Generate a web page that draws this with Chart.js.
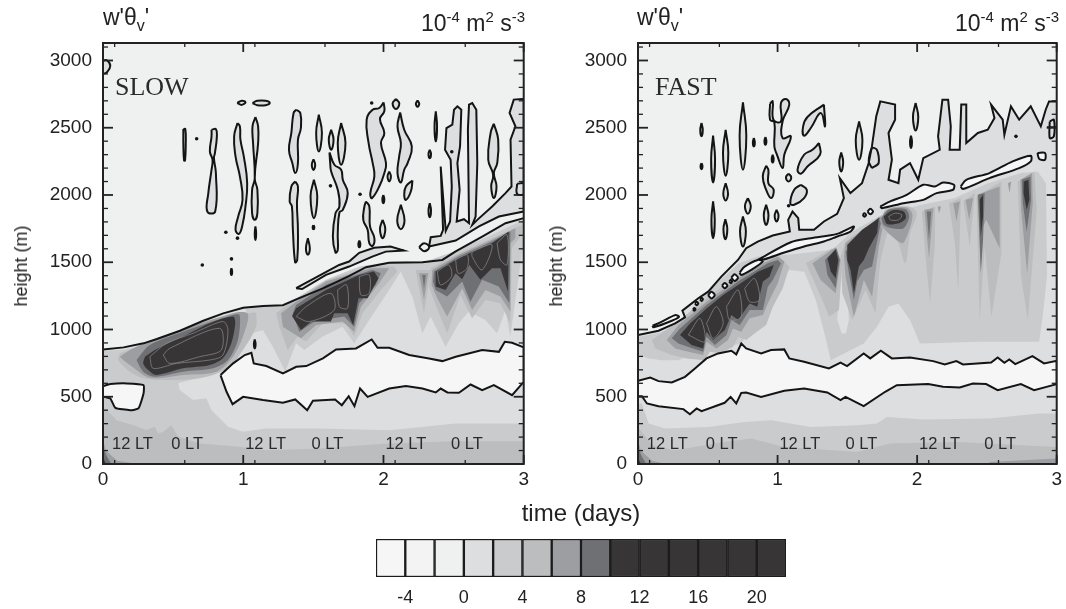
<!DOCTYPE html>
<html lang="en">
<head>
<meta charset="UTF-8">
<title>w'θv' SLOW and FAST</title>
<script src="https://cdn.jsdelivr.net/npm/chart.js"></script>
<style>
    body { margin: 0; background: #fff; width: 1066px; height: 609px; overflow: hidden; position: relative; font-family: "Liberation Sans", Arial, sans-serif; color: #222; }
    canvas { position: absolute; }
    .txt { position: absolute; white-space: nowrap; font-size: 23px; line-height: 20px; }
    .txt sup { font-size: 15px; line-height: 0; }
    .txt sub { font-size: 16px; line-height: 0; }
    .ylab { font-size: 18px; transform: translate(-50%, -50%) rotate(-90deg); }
</style>
</head>
<body>
<canvas id="slowChart" width="533" height="500" style="left:0;top:0"></canvas>
<canvas id="fastChart" width="533" height="500" style="left:533px;top:0"></canvas>
<canvas id="scaleChart" width="440" height="79" style="left:360px;top:530px"></canvas>
<div class="txt" style="left:103px;top:7px">w'θ<sub>v</sub>'</div>
<div class="txt" style="left:637px;top:7px">w'θ<sub>v</sub>'</div>
<div class="txt" style="right:541px;top:13px">10<sup>-4</sup> m<sup>2</sup> s<sup>-3</sup></div>
<div class="txt" style="right:7px;top:13px">10<sup>-4</sup> m<sup>2</sup> s<sup>-3</sup></div>
<div class="txt ylab" style="left:21px;top:266px">height (m)</div>
<div class="txt ylab" style="left:556px;top:266px">height (m)</div>
<div class="txt" style="left:581px;top:501px;font-size:24px;line-height:24px;transform:translateX(-50%)">time (days)</div>
<script>
// axis ticks
const dayTicks = [0, 1, 2, 3];
const localTimeTicks = [0.083, 0.583, 1.083, 1.583, 2.083, 2.583];
const heightLabelTicks = [0, 500, 1000, 1500, 2000, 2500, 3000];
const heightMajorTicks = [500, 1000, 1500, 2000, 2500, 3000];
const heightMinorTicks = [100, 200, 300, 400, 600, 700, 800, 900, 1100, 1200, 1300, 1400, 1600, 1700, 1800, 1900, 2100, 2200, 2300, 2400, 2600, 2700, 2800, 2900, 3100];
const ltLabels = ['12 LT', '0 LT', '12 LT', '0 LT', '12 LT', '0 LT'];
const ltTimes = [0.21, 0.6, 1.16, 1.6, 2.16, 2.595];
const ltHeight = 147;

// colour scale
const scaleEdges = [-6, -4, -2, 0, 2, 4, 6, 8, 10, 12, 14, 16, 18, 20, 22];
const scaleTicks = [-4, 0, 4, 8, 12, 16, 20];
const scaleShades = ['#f5f6f5', '#f2f3f2', '#eff1f0', '#dcdee0', '#c9cbcc', '#bbbdbf', '#9c9ea1', '#6e7073', '#383536', '#383536', '#383536', '#383536', '#383536', '#383536'];

// SLOW: zero contours
const slowInversion = [[0,852],[.147,867],[.289,897],[.384,929],[.549,991],[.715,1065],[.857,1120],[1,1162],[1.141,1175],[1.283,1180],[1.378,1224],[1.568,1306],[1.757,1398],[1.875,1463],[2.04,1497],[2.278,1500],[2.42,1517],[2.515,1580],[2.704,1691],[2.87,1790],[3,1828]];
const slowWhiteMain = [[.838,661],[.928,748],[1.011,810],[1.058,827],[1.075,748],[1.165,728],[1.283,673],[1.378,723],[1.449,728],[1.568,785],[1.662,852],[1.804,859],[1.916,926],[1.958,864],[2.041,864],[2.183,810],[2.325,785],[2.42,765],[2.515,797],[2.704,847],[2.823,834],[2.865,909],[2.917,901],[3,867],[3,611],[2.917,512],[2.787,586],[2.704,549],[2.621,591],[2.538,529],[2.456,532],[2.408,561],[2.373,532],[2.278,561],[2.16,579],[2.041,561],[1.887,499],[1.833,561],[1.793,430],[1.752,504],[1.703,437],[1.655,480],[1.497,470],[1.456,400],[1.371,480],[1.283,455],[1.141,475],[.999,499],[.924,445],[.881,537]];
const slowWhiteSmall = [[0,579],[.052,594],[.17,599],[.289,586],[.289,524],[.253,413],[.194,400],[.088,418],[.052,487],[0,504]];
const slowUpperLens = [[1.377,1307],[1.684,1480],[1.755,1505],[1.827,1570],[1.933,1607],[2.05,1617],[2.146,1587],[2.016,1579],[1.92,1542],[1.755,1468],[1.59,1406],[1.42,1301]];
const slowUpperBand = [[2.325,1617],[2.337,1686],[2.408,1696],[2.425,1741],[2.408,2212],[2.444,1733],[2.475,1803],[2.487,2063],[2.479,2262],[2.439,2336],[2.449,2498],[2.491,2523],[2.503,2634],[2.527,2659],[2.555,2634],[2.546,2361],[2.527,2237],[2.543,2039],[2.522,1803],[2.574,1820],[2.61,1790],[2.602,2485],[2.61,2672],[2.633,2684],[2.662,2634],[2.669,2237],[2.657,1840],[2.633,1778],[2.669,1815],[2.775,1915],[2.87,2014],[2.913,2063],[2.906,2411],[2.941,2510],[2.899,2610],[2.929,2709],[2.989,2714],[3,2709],[3,1877],[2.823,1840],[2.681,1766],[2.515,1661]];
const slowStreaks = [
    [[.573,2490],[.587,2490],[.59,2374],[.585,2257],[.578,2257],[.573,2374]],
    [[.774,2485],[.805,2490],[.812,2436],[.798,2312],[.791,2274],[.805,2163],[.8,1877],[.744,1877],[.751,2014],[.774,2188],[.781,2262],[.762,2324],[.774,2436]],
    [[.959,2535],[.935,2436],[.945,2287],[.976,2138],[.995,1964],[.964,1840],[.945,1741],[.969,1711],[.992,1766],[1.016,1915],[1.028,2088],[1.004,2287],[.98,2411],[.976,2510]],
    [[1.087,2580],[1.106,2510],[1.106,2386],[1.082,2125],[1.101,2039],[1.101,1865],[1.082,1815],[1.063,1865],[1.063,2039],[1.082,2125],[1.07,2386],[1.066,2510]],
    [[.957,2684],[.99,2700],[1.016,2690],[.99,2670]],
    [[1.066,2684],[1.1,2700],[1.16,2700],[1.189,2684],[1.16,2668],[1.1,2668]],
    [[1.087,1766],[1.092,1716],[1.087,1666],[1.082,1716]],
    [[.916,1455],[.921,1430],[.916,1405],[.911,1430]],
    [[1.082,926],[1.088,892],[1.082,859],[1.076,892]],
    [[1.378,2634],[1.407,2610],[1.411,2498],[1.39,2411],[1.39,2237],[1.371,2163],[1.35,2237],[1.326,2336],[1.343,2461],[1.359,2610]],
    [[1.371,2101],[1.39,2063],[1.383,1939],[1.39,1741],[1.385,1517],[1.37,1500],[1.354,1741],[1.347,1915],[1.331,1952],[1.343,2063]],
    [[1.539,2597],[1.561,2461],[1.539,2324],[1.52,2461]],
    [[1.501,2265],[1.513,2225],[1.501,2185],[1.489,2225]],
    [[1.504,2113],[1.528,1989],[1.504,1828],[1.48,1989]],
    [[1.501,1776],[1.507,1761],[1.501,1746],[1.495,1761]],
    [[1.461,1679],[1.475,1600],[1.461,1555],[1.447,1600]],
    [[1.627,2485],[1.644,2411],[1.627,2336],[1.61,2411]],
    [[1.698,2535],[1.729,2386],[1.698,2225],[1.674,2386]],
    [[1.615,2317],[1.65,2225],[1.698,2188],[1.71,2113],[1.745,2014],[1.71,1890],[1.686,1870],[1.674,1716],[1.674,1592],[1.658,1572],[1.639,1691],[1.658,1865],[1.686,1915],[1.674,2039],[1.627,2175],[1.62,2237]],
    [[2.001,2689],[2.006,2622],[1.975,2565],[2.006,2461],[1.982,2386],[2.018,2237],[2.006,2163],[1.97,2063],[1.918,1977],[1.906,2014],[1.935,2138],[1.923,2237],[1.894,2386],[1.88,2560],[1.923,2634],[1.97,2647]],
    [[2.089,2714],[2.113,2680],[2.089,2639],[2.065,2680]],
    [[2.243,2702],[2.255,2679],[2.243,2656],[2.231,2679]],
    [[2.119,2614],[2.148,2485],[2.202,2361],[2.172,2237],[2.148,2188],[2.124,2093],[2.1,2163],[2.112,2287],[2.124,2386],[2.1,2510]],
    [[2.041,2175],[2.053,2138],[2.041,2101],[2.029,2138]],
    [[2.207,2108],[2.195,2026],[2.16,1964],[2.148,2001],[2.16,2063]],
    [[2.124,1927],[2.15,1810],[2.124,1746],[2.098,1810]],
    [[1.999,2000],[2.006,1970],[1.999,1939],[1.992,1970]],
    [[1.875,1952],[1.899,1915],[1.904,1766],[1.935,1679],[1.923,1622],[1.899,1642],[1.887,1741],[1.856,1815],[1.864,1915]],
    [[1.994,1815],[2.013,1747],[1.994,1679],[1.975,1747]],
    [[1.828,1661],[1.835,1636],[1.828,1612],[1.821,1636]],
    [[2.33,2336],[2.339,2305],[2.33,2274],[2.321,2305]],
    [[2.373,2622],[2.382,2510],[2.373,2399],[2.364,2510]],
    [[2.33,1939],[2.339,1887],[2.33,1835],[2.321,1887]],
    [[2.787,2530],[2.818,2411],[2.811,2237],[2.787,2163],[2.806,2063],[2.787,1977],[2.768,2063],[2.782,2150],[2.747,2262],[2.764,2461]],
    [[2.953,2083],[3,2083],[3,2009],[2.953,2009]],
    [[0,3000],[.03,3000],[.052,2960],[.03,2915],[0,2907]]
];
const slowRingsClear = [[[2.254,1612],[2.29,1642],[2.326,1612],[2.29,1582]]];
const slowSpecks = [[.668,2418],[.876,1723],[.959,1679],[.708,1480],[.916,1525],[1.622,2068],[1.916,2684],[1.833,2006],[2.487,2322]];

// SLOW: shaded bands
const slowShade4Low = [[0,840],[.14,850],[.29,880],[.4,910],[.6,960],[.76,1000],[.903,748],[.832,686],[.536,600],[.547,550],[.642,475],[.737,488],[.773,401],[.808,364],[.891,277],[.998,240],[1.163,264],[1.543,264],[2.041,251],[2.515,301],[3,301],[3,0],[0,0]];
const slowShade4Up = [[1.02,1150],[1.116,1170],[1.282,1170],[1.377,1232],[1.59,1369],[1.827,1468],[2.064,1505],[2.3,1505],[2.537,1592],[2.774,1704],[3,1815],[3,1667],[2.905,947],[2.869,1145],[2.81,972],[2.727,1071],[2.608,1133],[2.537,1046],[2.443,872],[2.336,1096],[2.277,972],[2.206,1245],[2.123,1431],[2.04,1294],[1.898,1071],[1.791,897],[1.708,1021],[1.566,947],[1.436,848],[1.377,897],[1.3,690],[1.211,872],[1.14,997],[1.02,960]];
const slowShade6Low = [[0,420],[.026,401],[.097,326],[.216,289],[.31,252],[.37,277],[.393,227],[.429,240],[.488,289],[.536,202],[.69,153],[.974,128],[1.163,103],[1.543,115],[2,150],[2.5,170],[3,170],[3,0],[0,0]];
const slowCorner8 = [[0,180],[.02,100],[.1,25],[.25,0],[0,0]];
const slowCorner10 = [[0,120],[.03,50],[.06,0],[0,0]];
const slowCornerDark = [[0,50],[.02,0],[0,0]];
const slowAShade6 = [[.121,823],[.334,897],[.6,1000],[.85,1095],[1.092,1126],[1.092,1116],[1.092,1021],[.998,848],[.891,711],[.69,637],[.405,624],[.287,637],[.192,686],[.109,773]];
const slowAShade8 = [[.121,798],[.216,860],[.453,959],[.927,1121],[1.033,1116],[.998,947],[.927,798],[.808,686],[.571,662],[.393,637],[.31,649],[.239,699],[.145,773]];
const slowAShade10 = [[.239,773],[.334,885],[.571,984],[.927,1108],[.974,1108],[.962,922],[.891,773],[.784,711],[.571,686],[.37,649],[.287,686]];
const slowADark = [[.299,798],[.393,860],[.571,947],[.761,1046],[.927,1096],[.943,1046],[.915,897],[.855,786],[.761,736],[.571,711],[.382,662],[.322,699],[.287,748]];
const slowBShade6 = [[1.234,1121],[1.258,1021],[1.317,848],[1.388,947],[1.448,910],[1.566,1046],[1.732,1046],[1.791,947],[1.85,1121],[1.981,1294],[2.099,1431],[2.075,1468],[1.898,1468],[1.59,1364],[1.377,1225],[1.282,1158]];
const slowBShade8 = [[1.91,1456],[1.59,1356],[1.377,1207],[1.27,1121],[1.282,1021],[1.412,934],[1.519,1034],[1.708,1059],[1.791,984],[1.839,1170],[1.969,1344],[2.04,1456]];
const slowBShade10 = [[1.353,1121],[1.4,984],[1.507,1059],[1.72,1096],[1.791,1021],[1.827,1195],[1.945,1332],[1.981,1418],[1.921,1443],[1.59,1332],[1.377,1183]];
const slowBDark = [[1.348,1101],[1.412,996],[1.483,1059],[1.625,1059],[1.649,1121],[1.744,1121],[1.784,1034],[1.822,1232],[1.886,1232],[1.964,1381],[1.933,1431],[1.827,1406],[1.59,1294],[1.377,1158]];
const slowMidShade6 = [[2.229,1443],[2.336,1443],[2.289,1121]];
const slowMidShade8 = [[2.253,1418],[2.319,1418],[2.289,1220]];
const slowMidShade10 = [[2.277,1406],[2.301,1406],[2.289,1307]];
const slowCShade6 = [[2.336,1456],[2.537,1567],[2.774,1679],[2.988,1778],[2.988,1704],[2.916,1605],[2.905,1046],[2.834,1195],[2.727,1220],[2.632,1083],[2.549,1257],[2.454,972],[2.372,1183],[2.324,1319]];
const slowCShade8 = [[2.348,1443],[2.537,1555],[2.774,1667],[2.94,1753],[2.94,1679],[2.905,1642],[2.905,1133],[2.834,1245],[2.727,1294],[2.632,1145],[2.561,1307],[2.454,1096],[2.383,1232],[2.343,1332]];
const slowCShade10 = [[2.36,1431],[2.537,1543],[2.774,1654],[2.905,1729],[2.898,1195],[2.822,1319],[2.703,1369],[2.62,1207],[2.561,1356],[2.454,1245],[2.372,1294],[2.353,1356]];
const slowCDark = [[2.372,1431],[2.537,1530],[2.774,1642],[2.893,1729],[2.888,1282],[2.834,1456],[2.774,1456],[2.691,1369],[2.613,1480],[2.561,1374],[2.514,1418],[2.443,1294],[2.372,1319]];
const slowInnerLines = [
    [[.334,798],[.453,897],[.642,972],[.855,1059],[.891,997],[.855,810],[.761,773],[.524,748],[.358,711]],
    [[.429,810],[.476,860],[.832,1009],[.844,848],[.69,798],[.476,748]],
    [[1.377,1096],[1.448,1170],[1.625,1269],[1.649,1145],[1.471,1059]],
    [[1.673,1294],[1.737,1332],[1.744,1158],[1.685,1170]],
    [[1.827,1394],[1.898,1406],[1.898,1269],[1.839,1257]],
    [[2.383,1431],[2.466,1480],[2.485,1394],[2.407,1332]],
    [[2.514,1518],[2.597,1555],[2.597,1456],[2.533,1418]],
    [[2.632,1580],[2.774,1629],[2.703,1443],[2.632,1543]],
    [[2.81,1642],[2.881,1704],[2.881,1480],[2.834,1518]]
];

// FAST: zero contours
const fastInversion = [[0,959],[.147,991],[.266,1045],[.337,1090],[.318,1140],[.432,1232],[.503,1281],[.597,1393],[.716,1517],[.775,1604],[.858,1654],[.965,1699],[1.088,1728],[1.076,1815],[1.107,1877],[1.148,1828],[1.155,1741],[1.261,1741],[1.332,1803],[1.427,1860],[1.475,1977],[1.446,2125],[1.522,2014],[1.605,2088],[1.653,2237],[1.676,2361],[1.707,2585],[1.736,2696],[1.842,2672],[1.842,2560],[1.795,2461],[1.819,2262],[1.795,2113],[1.866,2088],[1.878,2188],[1.949,2237],[2.008,2113],[2.044,2274],[2.162,2336],[2.15,2436],[2.181,2709],[2.222,2709],[2.241,2510],[2.233,2336],[2.305,2336],[2.316,2672],[2.352,2672],[2.352,2386],[2.435,2461],[2.506,2485],[2.554,2572],[2.53,2672],[2.613,2560],[2.625,2448],[2.672,2659],[2.731,2560],[2.814,2659],[2.886,2510],[2.921,2634],[2.945,2696],[3,2696]];
const fastWhiteMain = [[0,619],[.088,643],[.147,616],[.242,606],[.337,648],[.408,710],[.491,785],[.574,822],[.669,842],[.704,815],[.74,896],[.775,859],[.882,822],[.953,847],[1.048,852],[1.084,785],[1.19,760],[1.368,710],[1.451,753],[1.498,728],[1.617,822],[1.664,785],[1.74,842],[1.819,785],[1.949,792],[2.115,765],[2.198,740],[2.281,765],[2.328,740],[2.53,755],[2.577,792],[2.625,753],[2.66,777],[2.703,743],[2.826,802],[2.909,748],[3,767],[3,594],[2.838,549],[2.743,594],[2.577,549],[2.494,594],[2.399,599],[2.305,569],[2.186,574],[2.079,594],[1.854,586],[1.771,537],[1.617,430],[1.487,499],[1.451,475],[1.356,532],[1.19,561],[1.048,544],[.882,499],[.775,532],[.74,529],[.704,450],[.664,499],[.621,455],[.455,393],[.42,413],[.372,370],[.325,408],[.147,430],[.064,450],[.028,504],[0,504]];
const fastLenses = [
    [[1.736,1915],[1.807,1952],[1.925,2001],[2.044,2076],[2.127,2063],[2.186,2093],[2.264,2076],[2.257,2039],[2.139,2014],[2.044,1964],[1.902,1939],[1.747,1902]],
    [[2.312,2063],[2.352,2113],[2.518,2163],[2.684,2250],[2.814,2292],[2.814,2250],[2.731,2200],[2.518,2125],[2.328,2044]],
    [[.858,1517],[1.095,1649],[1.238,1679],[1.427,1711],[1.546,1766],[1.522,1728],[1.427,1691],[1.332,1654],[1.19,1617],[1.048,1572],[.906,1522]],
    [[.728,1423],[.764,1467],[.858,1517],[.894,1505],[.811,1443],[.74,1405]],
    [[.104,1028],[.171,1058],[.266,1107],[.294,1095],[.242,1065],[.111,1016]],
    [[.602,1326],[.621,1345],[.64,1326],[.621,1307]],
    [[.654,1356],[.664,1368],[.674,1356],[.664,1344]],
    [[.668,1385],[.692,1410],[.716,1385],[.692,1360]],
    [[.502,1256],[.526,1281],[.55,1256],[.526,1231]],
    [[.445,1224],[.455,1236],[.465,1224],[.455,1212]],
    [[.408,1194],[.42,1207],[.432,1194],[.42,1181]],
    [[.394,1150],[.403,1160],[.412,1150],[.403,1140]],
    [[1.61,1852],[1.622,1865],[1.634,1852],[1.622,1839]],
    [[1.644,1877],[1.664,1897],[1.684,1877],[1.664,1857]],
    [[2.862,2312],[2.916,2312],[2.916,2262],[2.875,2267]]
];
const fastBodyRings = [
    [[1.676,2200],[1.724,2237],[1.712,2336],[1.676,2349],[1.653,2250]],
    [[2.95,2547],[2.98,2560],[2.98,2436],[2.95,2423]]
];
const fastStreaks = [
    [[.455,2535],[.464,2485],[.455,2436],[.446,2485]],
    [[.455,2237],[.462,2215],[.455,2192],[.448,2215]],
    [[.538,2441],[.552,2267],[.538,2093],[.524,2267]],
    [[.628,2485],[.647,2314],[.628,2143],[.609,2314]],
    [[.628,2088],[.645,2010],[.628,1959],[.611,2010]],
    [[.538,1952],[.55,1815],[.538,1679],[.526,1815]],
    [[.626,1820],[.64,1745],[.626,1671],[.612,1745]],
    [[.752,2689],[.776,2440],[.752,2188],[.728,2440]],
    [[.83,2423],[.837,2392],[.83,2361],[.823,2392]],
    [[.913,2431],[.92,2402],[.913,2374],[.906,2402]],
    [[.965,2299],[.972,2270],[.965,2242],[.958,2270]],
    [[.946,2679],[.965,2696],[.97,2560],[1.024,2547],[1.024,2684],[1.06,2714],[1.084,2672],[1.036,2547],[1.036,2423],[1.095,2436],[1.048,2299],[1.036,2200],[.996,2299],[.977,2361],[.977,2540],[.946,2560]],
    [[.918,2217],[.934,2188],[.934,2088],[.972,2039],[.953,1977],[.918,2039],[.894,2138]],
    [[1.079,2160],[1.098,2130],[1.079,2100],[1.06,2130]],
    [[1.332,2672],[1.34,2510],[1.309,2610],[1.238,2498],[1.19,2441],[1.183,2510],[1.214,2580]],
    [[1.297,2386],[1.304,2299],[1.214,2212],[1.167,2158],[1.143,2188],[1.19,2299],[1.25,2336]],
    [[1.167,2076],[1.209,2039],[1.19,1977],[1.119,1927],[1.091,1939],[1.119,2039]],
    [[.787,1977],[.808,1918],[.787,1860],[.766,1918]],
    [[.918,1927],[.935,1850],[.918,1778],[.901,1850]],
    [[.993,1890],[1.007,1845],[.993,1803],[.979,1845]],
    [[.752,1840],[.773,1730],[.752,1617],[.731,1730]],
    [[1.456,2317],[1.47,2245],[1.456,2175],[1.442,2245]],
    [[1.584,2547],[1.608,2405],[1.584,2262],[1.56,2405]],
    [[1.989,2684],[2.008,2580],[1.989,2480],[1.97,2580]],
    [[1.956,2441],[1.963,2395],[1.956,2349],[1.949,2395]]
];
const fastSpecks = [[1.079,1920],[2.708,2436]];
const fastGridLine = [[2.93,2503],[3,2503]];

// FAST: shaded bands
const fastShade4Low = [[0,450],[.028,450],[.076,301],[.194,264],[.503,276],[.764,313],[.953,326],[1.238,276],[1.57,288],[1.712,301],[1.783,350],[2.044,331],[2.518,338],[2.874,375],[3,375],[3,0],[0,0]];
const fastShade6Low = [[0,276],[.1,139],[.265,102],[.621,164],[.811,189],[1.048,127],[1.57,90],[1.807,152],[2.281,164],[2.755,139],[3,127],[3,0],[0,0]];
const fastShade8Low = [[2.518,15],[3,40],[3,0],[2.518,0]];
const fastCorner8 = [[0,180],[.02,100],[.1,25],[.2,0],[0,0]];
const fastCorner10 = [[0,120],[.03,50],[.06,0],[0,0]];
const fastCornerDark = [[0,50],[.02,0],[0,0]];
const fastShade4Up = [[0,945],[.15,975],[.27,1020],[.33,1070],[.43,1210],[.6,1375],[.72,1490],[.85,1540],[1.084,1555],[1.392,1592],[1.535,1728],[1.725,1840],[2.033,1927],[2.27,1977],[2.508,2088],[2.745,2163],[2.864,2175],[2.923,2088],[2.93,1400],[2.926,1356],[2.902,1120],[2.874,909],[2.447,909],[2.02,896],[1.949,1070],[1.866,1194],[1.795,1170],[1.712,1021],[1.617,896],[1.381,772],[1.345,934],[1.274,1219],[1.191,1430],[1.084,1443],[1.025,1368],[.918,1194],[.859,1045],[.788,971],[.74,896],[.645,872],[.551,859],[.408,822],[.29,772],[.171,772],[.076,785],[0,810]];
const fastWedge = [[1.452,1517],[1.487,1517],[1.511,1071],[1.49,970],[1.46,970],[1.428,1071]];
const fastAShade6 = [[.1,921],[.266,1045],[.491,1232],[.717,1405],[.906,1517],[1,1560],[1.084,1467],[1.037,1306],[.966,1170],[.918,1033],[.835,971],[.776,921],[.717,946],[.681,872],[.586,822],[.515,834],[.479,772],[.349,785],[.242,810],[.123,859]];
const fastAShade8 = [[.206,921],[.29,1033],[.491,1207],[.717,1380],[.906,1497],[1,1540],[1.049,1505],[1.001,1343],[.93,1194],[.895,1107],[.8,1083],[.74,983],[.681,1008],[.645,921],[.562,859],[.491,909],[.467,810],[.361,834],[.266,859]];
const fastAShade10 = [[.242,934],[.301,1008],[.491,1182],[.717,1356],[.93,1492],[1.001,1517],[1.025,1492],[.966,1368],[.93,1318],[.895,1145],[.8,1145],[.729,1033],[.669,1070],[.634,959],[.551,884],[.491,946],[.467,834],[.373,867],[.29,896]];
const fastADark = [[.301,959],[.373,1045],[.491,1157],[.61,1256],[.717,1331],[.859,1430],[.973,1480],[.942,1393],[.895,1356],[.854,1170],[.8,1194],[.717,1070],[.669,1107],[.622,996],[.539,921],[.491,983],[.467,859],[.384,884]];
const fastV1Shade6 = [[1.203,1493],[1.392,1604],[1.464,1517],[1.44,1145],[1.369,1095],[1.321,1220]];
const fastV1Shade8 = [[1.25,1493],[1.416,1612],[1.452,1517],[1.416,1269],[1.309,1368]];
const fastV1Shade10 = [[1.34,1517],[1.423,1604],[1.445,1517],[1.416,1306],[1.357,1406]];
const fastV1Dark = [[1.357,1530],[1.416,1597],[1.435,1517],[1.416,1381],[1.381,1431]];
const fastV2Shade6 = [[1.452,1542],[1.487,1654],[1.748,1852],[1.796,1766],[1.737,1517],[1.701,1120],[1.63,1294],[1.535,1071],[1.464,1269]];
const fastV2Shade8 = [[1.476,1542],[1.487,1641],[1.737,1840],[1.76,1790],[1.725,1617],[1.677,1244],[1.618,1368],[1.547,1095],[1.487,1393]];
const fastV2Shade10 = [[1.487,1579],[1.725,1835],[1.744,1815],[1.677,1468],[1.618,1443],[1.57,1356],[1.547,1220],[1.511,1418]];
const fastV2Dark = [[1.499,1629],[1.606,1741],[1.725,1828],[1.713,1716],[1.654,1604],[1.618,1517],[1.582,1468],[1.547,1269],[1.523,1443],[1.499,1517]];
const fastB3Shade6 = [[1.744,1766],[1.772,1890],[1.938,1915],[1.998,1865],[1.95,1716],[1.915,1493],[1.855,1666],[1.772,1728]];
const fastB3Shade8 = [[1.729,1815],[1.796,1895],[1.926,1907],[1.967,1852],[1.926,1691],[1.891,1641],[1.76,1753]];
const fastB3Shade10 = [[1.744,1828],[1.796,1890],[1.915,1895],[1.943,1840],[1.903,1753],[1.82,1753],[1.76,1778]];
const fastB3Dark = [[1.76,1840],[1.82,1885],[1.903,1877],[1.919,1828],[1.867,1790],[1.784,1785]];
const fastVeeShade6 = [
    [[2.033,1877],[2.128,1915],[2.128,1641],[2.093,1195],[2.069,1443]],
    [[2.228,1939],[2.313,1977],[2.294,1282],[2.271,1641]],
    [[2.33,1952],[2.413,2014],[2.377,1617]],
    [[2.425,1989],[2.603,2101],[2.603,1567],[2.532,1095],[2.484,1617],[2.448,1071]],
    [[2.721,2101],[2.84,2175],[2.857,1890],[2.793,1071],[2.745,1393]]
];
const fastVeeShade8 = [
    [[2.052,1890],[2.116,1902],[2.085,1530]],
    [[2.147,1915],[2.171,1915],[2.157,1865]],
    [[2.259,1939],[2.306,1952],[2.282,1803]],
    [[2.346,1964],[2.401,1977],[2.373,1815]],
    [[2.432,2001],[2.591,2063],[2.591,1604],[2.496,1815],[2.472,1766],[2.456,1443]],
    [[2.65,2088],[2.674,2101],[2.662,2014]],
    [[2.74,2113],[2.823,2163],[2.828,1939],[2.788,1418],[2.745,1890]]
];
const fastVeeShade10 = [
    [[2.069,1877],[2.1,1877],[2.085,1666]],
    [[2.437,2001],[2.484,2014],[2.472,1666],[2.456,1418]],
    [[2.75,2113],[2.812,2138],[2.816,1964],[2.785,1728],[2.757,1939]]
];
const fastVeeDark = [
    [[2.448,1964],[2.472,2001],[2.472,1840],[2.456,1691]],
    [[2.764,2101],[2.797,2113],[2.804,1964],[2.785,1890],[2.762,2014]]
];
const fastInnerLines = [
    [[.361,959],[.444,1083],[.479,909]],
    [[.491,1045],[.562,1170],[.61,1045],[.539,934]],
    [[.634,1170],[.717,1294],[.74,1095],[.657,1070]],
    [[.764,1306],[.835,1380],[.871,1219],[.8,1207]],
    [[1.796,1840],[1.843,1865],[1.891,1852],[1.867,1815],[1.808,1815]]
];

// greys of the contour bands
const BG = '#eff1f1', WHITE = '#f5f6f5', S2 = '#dcdee0', S4 = '#c9cbcc', S6 = '#bbbdbf', S8 = '#9c9ea1', S10 = '#6e7073', DARK = '#383536';
const LINE = '#141414';
const SOFT = 0.3, ROUND = 0.45;

function toXY(pts) { return pts.map(p => ({ x: p[0], y: p[1] })); }
// filled polygon with no outline
function shade(pts, color, soft) {
    return { data: toXY(soft ? pts.concat([pts[0]]) : pts), polyFill: color, showLine: true, borderWidth: 0, pointRadius: 0, tension: soft || 0 };
}
// closed contour, filled or not
function ring(pts, color, soft, width, lineColor) {
    return { data: toXY(pts.concat([pts[0]])), polyFill: color, showLine: true, tension: soft || 0, borderColor: lineColor || LINE, borderWidth: width || 2, pointRadius: 0 };
}
function openLine(pts) {
    return { data: toXY(pts), showLine: true, borderColor: LINE, borderWidth: 2, pointRadius: 0 };
}
function specks(pts) {
    return { data: toXY(pts), showLine: false, pointRadius: 1.8, pointBackgroundColor: LINE, pointBorderWidth: 0 };
}

// fills the polygon of a dataset along the line the chart built
const polyFillPlugin = {
    id: 'polyFill',
    beforeDatasetDraw(chart, args) {
        const ds = chart.data.datasets[args.index];
        if (!ds.polyFill) return;
        const ctx = chart.ctx, line = args.meta.dataset;
        line.updateControlPoints(chart.chartArea);
        ctx.save();
        ctx.beginPath();
        line.path(ctx);
        ctx.closePath();
        ctx.fillStyle = ds.polyFill;
        ctx.fill();
        ctx.restore();
    }
};

// frame, inward ticks and the text inside the panel
function panelMarks(name, nameX) {
    return {
        id: 'panelMarks',
        afterDatasetsDraw(chart) {
            const ctx = chart.ctx, a = chart.chartArea, xs = chart.scales.x, ys = chart.scales.y;
            ctx.save();
            ctx.strokeStyle = '#222';
            ctx.fillStyle = '#2a2a2a';
            function seg(x1, y1, x2, y2, w) { ctx.lineWidth = w; ctx.beginPath(); ctx.moveTo(x1, y1); ctx.lineTo(x2, y2); ctx.stroke(); }
            heightMajorTicks.forEach(v => { const y = ys.getPixelForValue(v); seg(a.left, y, a.left + 10, y, 1.8); seg(a.right, y, a.right - 10, y, 1.8); });
            heightMinorTicks.forEach(v => { const y = ys.getPixelForValue(v); seg(a.left, y, a.left + 5, y, 1.3); seg(a.right, y, a.right - 5, y, 1.3); });
            dayTicks.forEach(v => { const x = xs.getPixelForValue(v); seg(x, a.top, x, a.top + 9, 1.8); seg(x, a.bottom, x, a.bottom - 9, 1.8); });
            localTimeTicks.forEach(v => { const x = xs.getPixelForValue(v); seg(x, a.top, x, a.top + 4, 1.3); seg(x, a.bottom, x, a.bottom - 4, 1.3); });
            ctx.lineWidth = 2;
            ctx.strokeRect(a.left, a.top, a.right - a.left, a.bottom - a.top);
            ctx.textBaseline = 'middle';
            ctx.textAlign = 'center';
            ctx.font = '16.5px "Liberation Sans"';
            ltLabels.forEach((s, i) => ctx.fillText(s, xs.getPixelForValue(ltTimes[i]), ys.getPixelForValue(ltHeight)));
            ctx.font = '26px "Liberation Serif"';
            ctx.textAlign = 'left';
            ctx.fillText(name, nameX, 88);
            ctx.restore();
        }
    };
}

function makePanel(id, layers, name, nameX, axisWidth, rightPad) {
    const font = { family: '"Liberation Sans"', size: 19 };
    // the library paints the first dataset last
    const datasets = layers.slice().reverse();
    return new Chart(document.getElementById(id), {
        type: 'scatter',
        data: { datasets: datasets },
        options: {
            responsive: false,
            animation: false,
            layout: { padding: { top: 43, right: rightPad, left: 0, bottom: 0 } },
            plugins: { legend: { display: false }, tooltip: { enabled: false } },
            scales: {
                x: {
                    min: 0, max: 3,
                    afterFit: s => { s.height = 36; },
                    afterBuildTicks: s => { s.ticks = dayTicks.map(v => ({ value: v })); },
                    grid: { display: false, drawTicks: false }, border: { display: false },
                    ticks: { padding: 4, color: '#222', font: font, maxRotation: 0 }
                },
                y: {
                    min: 0, max: 3130,
                    afterFit: s => { s.width = axisWidth; },
                    afterBuildTicks: s => { s.ticks = heightLabelTicks.map(v => ({ value: v })); },
                    grid: { display: false, drawTicks: false }, border: { display: false },
                    ticks: { padding: 11, color: '#222', font: font, callback: v => v }
                }
            }
        },
        plugins: [polyFillPlugin, panelMarks(name, nameX)]
    });
}

const frameBox = [[0,0],[3,0],[3,3130],[0,3130]];

const slowLayers = [
    shade(frameBox, BG),
    shade(slowInversion.concat([[3,0],[0,0]]), S2),
    shade(slowShade4Low, S4), shade(slowShade4Up, S4), shade(slowShade6Low, S6),
    shade(slowCorner8, S8), shade(slowCorner10, S10), shade(slowCornerDark, DARK),
    shade(slowAShade6, S6, SOFT), shade(slowAShade8, S8, SOFT), shade(slowAShade10, S10, SOFT), shade(slowADark, DARK, SOFT),
    shade(slowBShade6, S6), shade(slowBShade8, S8), shade(slowBShade10, S10), shade(slowBDark, DARK),
    shade(slowMidShade6, S6), shade(slowMidShade8, S8), shade(slowMidShade10, S10),
    shade(slowCShade6, S6), shade(slowCShade8, S8), shade(slowCShade10, S10), shade(slowCDark, DARK)
].concat(
    slowInnerLines.map(r => ring(r, null, SOFT, 0.7, '#8c8c8c')),
    [ring(slowWhiteMain, WHITE), ring(slowWhiteSmall, WHITE, 0.15), ring(slowUpperLens, S2), ring(slowUpperBand, S2)],
    slowRingsClear.map(r => ring(r, BG, ROUND)),
    slowStreaks.map(r => ring(r, S2, ROUND)),
    [specks(slowSpecks), openLine(slowInversion)]
);

const fastLayers = [
    shade(frameBox, BG),
    shade(fastInversion.concat([[3,0],[0,0]]), S2),
    shade(fastShade4Low, S4), shade(fastShade4Up, S4), shade(fastWedge, S2),
    shade(fastShade6Low, S6), shade(fastShade8Low, S8),
    shade(fastCorner8, S8), shade(fastCorner10, S10), shade(fastCornerDark, DARK),
    shade(fastAShade6, S6), shade(fastAShade8, S8), shade(fastAShade10, S10), shade(fastADark, DARK),
    shade(fastV1Shade6, S6), shade(fastV1Shade8, S8), shade(fastV1Shade10, S10), shade(fastV1Dark, DARK),
    shade(fastV2Shade6, S6), shade(fastV2Shade8, S8), shade(fastV2Shade10, S10), shade(fastV2Dark, DARK),
    shade(fastB3Shade6, S6, SOFT), shade(fastB3Shade8, S8, SOFT), shade(fastB3Shade10, S10, SOFT), shade(fastB3Dark, DARK, SOFT)
].concat(
    fastVeeShade6.map(r => shade(r, S6)),
    fastVeeShade8.map(r => shade(r, S8)),
    fastVeeShade10.map(r => shade(r, S10)),
    fastVeeDark.map(r => shade(r, DARK)),
    fastInnerLines.map(r => ring(r, null, SOFT, 0.7, '#8c8c8c')),
    [ring(fastWhiteMain, WHITE)],
    fastLenses.map(r => ring(r, WHITE, SOFT)),
    fastBodyRings.map(r => ring(r, null, SOFT)),
    fastStreaks.map(r => ring(r, S2, ROUND)),
    [specks(fastSpecks), openLine(fastGridLine), openLine(fastInversion)]
);

makePanel('slowChart', slowLayers, 'SLOW', 115, 103, 8);
makePanel('fastChart', fastLayers, 'FAST', 122, 105, 7);

// colour scale below the panels
new Chart(document.getElementById('scaleChart'), {
    type: 'bar',
    data: {
        labels: ['w'],
        datasets: scaleShades.map((c, i) => ({
            data: [[scaleEdges[i], scaleEdges[i + 1]]],
            backgroundColor: c,
            borderColor: '#1c1c1c',
            borderWidth: 1.5,
            borderSkipped: false,
            barPercentage: 1,
            categoryPercentage: 1,
            grouped: false
        }))
    },
    options: {
        indexAxis: 'y',
        responsive: false,
        animation: false,
        layout: { padding: { left: 16, right: 14, top: 9, bottom: 0 } },
        plugins: { legend: { display: false }, tooltip: { enabled: false } },
        scales: {
            y: { display: false },
            x: {
                min: -6, max: 22,
                afterFit: s => { s.height = 32; },
                afterBuildTicks: s => { s.ticks = scaleTicks.map(v => ({ value: v })); },
                grid: { display: false, drawTicks: false }, border: { display: false },
                ticks: { padding: 10, color: '#222', autoSkip: false, maxRotation: 0, font: { family: '"Liberation Sans"', size: 18 } }
            }
        }
    }
});
</script>
</body>
</html>
